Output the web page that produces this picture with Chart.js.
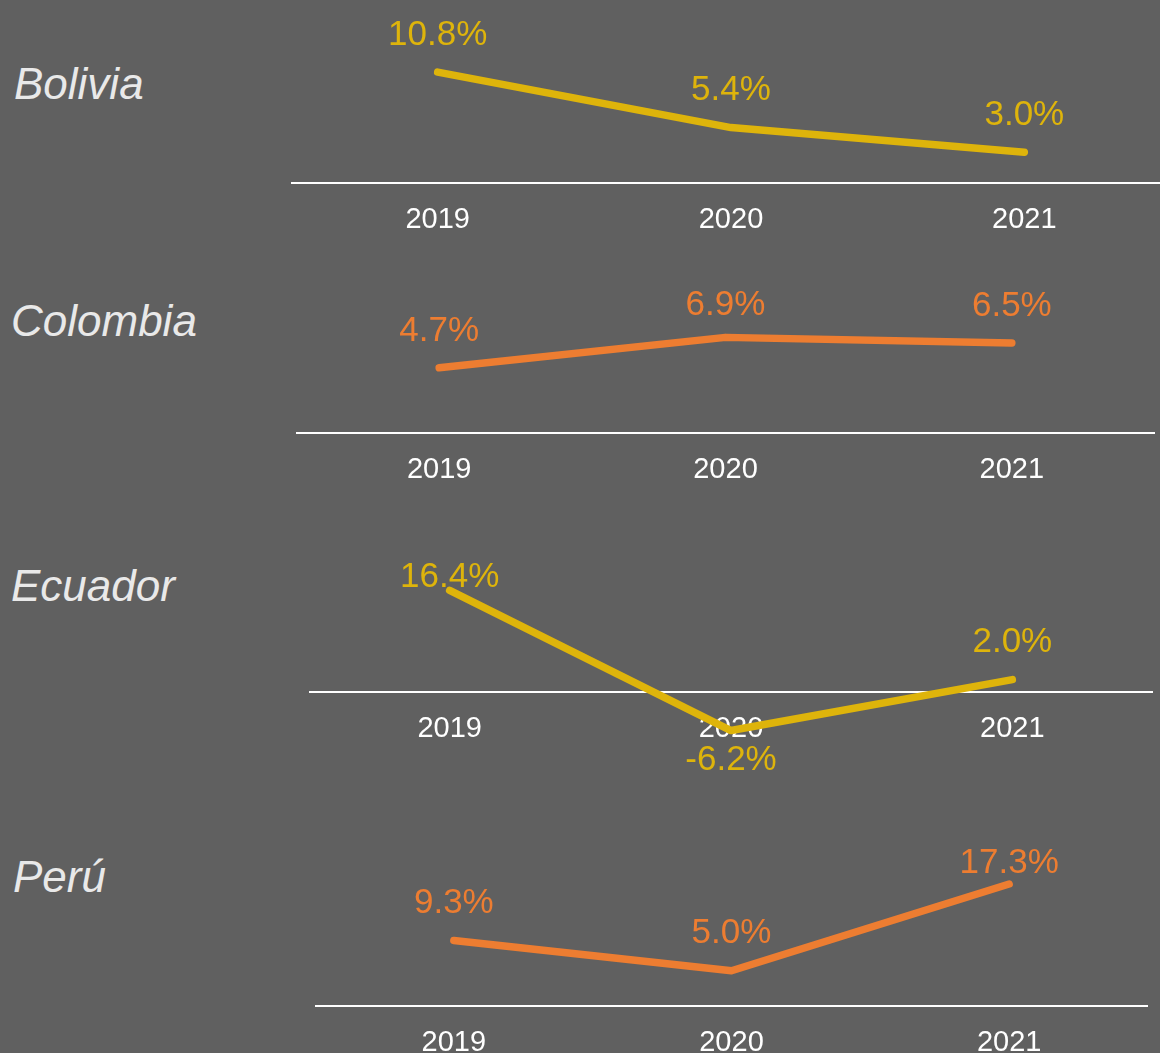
<!DOCTYPE html>
<html>
<head>
<meta charset="utf-8">
<script src="https://cdn.jsdelivr.net/npm/chart.js@4.4.1/dist/chart.umd.min.js"></script>
<style>
  html, body { margin:0; padding:0; background:#606060; width:1160px; height:1053px; overflow:hidden; }
  .panel { position:absolute; }
  .name { position:absolute; font-family:"Liberation Sans", Arial, sans-serif; font-style:italic;
          font-size:44px; line-height:44px; color:#e9e9e9; white-space:nowrap; }
</style>
</head>
<body>
<script>
// ---- data ----
const years = ['2019', '2020', '2021'];
const countries = ['Bolivia', 'Colombia', 'Ecuador', 'Perú'];
const boliviaValues = [10.8, 5.4, 3.0];
const colombiaValues = [4.7, 6.9, 6.5];
const ecuadorValues = [16.4, -6.2, 2.0];
const peruValues = [9.3, 5.0, 17.3];
const seriesValues = [boliviaValues, colombiaValues, ecuadorValues, peruValues];

// ---- styles / layout ----
const YELLOW = '#DEB40B';
const ORANGE = '#ED7D31';
const panelColors = [YELLOW, ORANGE, YELLOW, ORANGE];
// canvas boxes and vertical scale ranges for each small chart
const panelLayout = [
  { left: 291, top: 0,   width: 880, height: 250, yMin: -6.52, yMax: 17.82, nameTop: 62 },
  { left: 296, top: 290, width: 859, height: 210, yMin: -4.84, yMax: 10.32, nameTop: 299 },
  { left: 309, top: 562, width: 844, height: 220, yMin: -14.5, yMax: 20.97, nameTop: 564 },
  { left: 315, top: 848, width: 833, height: 205, yMin: -6.67, yMax: 22.41, nameTop: 855 }
];
const nameLeft = [14, 11, 11, 13];

const valueLabels = {
  id: 'valueLabels',
  afterDraw(chart, args, opts) {
    const ctx = chart.ctx;
    const ds = chart.data.datasets[0];
    const meta = chart.getDatasetMeta(0);
    ctx.save();
    ctx.font = opts.font;
    ctx.fillStyle = ds.borderColor;
    ctx.textAlign = 'center';
    ctx.textBaseline = 'middle';
    meta.data.forEach((pt, i) => {
      const v = ds.data[i];
      let y = v < 0 ? pt.y + opts.below : pt.y - opts.above;
      y = Math.max(y, chart.chartArea.top + opts.minTop);
      ctx.fillText(v.toFixed(1) + '%', pt.x, y);
    });
    ctx.restore();
  }
};

Chart.defaults.font.family = '"Liberation Sans", Arial, sans-serif';

panelLayout.forEach((p, idx) => {
  const name = document.createElement('div');
  name.className = 'name';
  name.style.left = nameLeft[idx] + 'px';
  name.style.top = p.nameTop + 'px';
  name.textContent = countries[idx];
  document.body.appendChild(name);

  const box = document.createElement('div');
  box.className = 'panel';
  box.style.left = p.left + 'px';
  box.style.top = p.top + 'px';
  box.style.width = p.width + 'px';
  box.style.height = p.height + 'px';
  const cv = document.createElement('canvas');
  box.appendChild(cv);
  document.body.appendChild(box);

  new Chart(cv, {
    type: 'line',
    data: {
      labels: years,
      datasets: [{
        data: seriesValues[idx],
        borderColor: panelColors[idx],
        borderWidth: 7.5,
        borderCapStyle: 'round',
        borderJoinStyle: 'round',
        pointRadius: 0,
        tension: 0,
        clip: false
      }]
    },
    options: {
      responsive: true,
      maintainAspectRatio: false,
      animation: false,
      layout: { padding: 0 },
      plugins: {
        legend: { display: false },
        tooltip: { enabled: false },
        valueLabels: { font: '35px "Liberation Sans", Arial, sans-serif', above: 37, below: 30, minTop: 15 }
      },
      scales: {
        x: {
          type: 'category',
          position: { y: 0 },
          offset: true,
          z: 1,
          grid: { display: false, drawTicks: false },
          border: { display: false },
          ticks: { color: '#ffffff', font: { size: 29 }, padding: 20, maxRotation: 0, autoSkip: false }
        },
        y: {
          min: p.yMin,
          max: p.yMax,
          display: true,
          ticks: { display: false },
          border: { display: false },
          grid: {
            drawTicks: false,
            lineWidth: 2,
            color: (c) => (c.tick && c.tick.value === 0) ? '#ffffff' : 'rgba(0,0,0,0)'
          }
        }
      }
    },
    plugins: [valueLabels]
  });
});
</script>
</body>
</html>
